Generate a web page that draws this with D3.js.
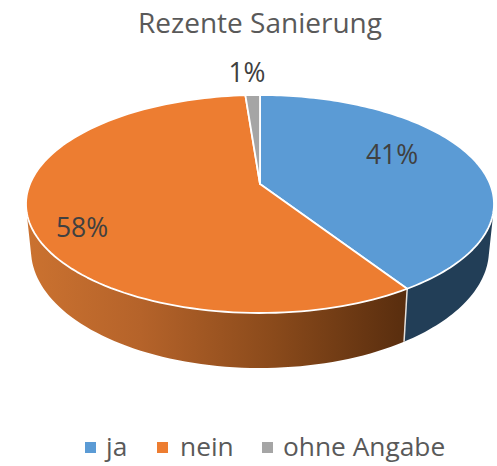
<!DOCTYPE html>
<html><head><meta charset="utf-8">
<script src="https://cdn.jsdelivr.net/npm/d3@7/dist/d3.min.js"></script>
<style>html,body{margin:0;padding:0;background:#fff}svg{display:block}text{font-family:"Open Sans",sans-serif}</style>
</head><body><svg id="c" width="497" height="466"></svg>
<script>
const title = "Rezente Sanierung";
const categories = ["ja", "nein", "ohne Angabe"];
const values = [40.9, 57.9, 1.2];
const valueLabels = ["41%", "58%", "1%"];
const topColors = ["#5B9BD5", "#ED7D31", "#A5A5A5"];

const svg = d3.select("#c");
const cx = 260, topCy = 204, topRy = 109, apexOffset = 20, topRx = 234;
const botCy = 250, botRy = 118, botRx = 229;

// perspective projection of the unit circle, so the pie's centre sits above the ellipse centre
const k = apexOffset / topRy;
function project(angle, radius, level) {
  const u = Math.sin(angle) * radius, v = -Math.cos(angle) * radius;
  const s = level === 0 ? topRy : botRy;
  const rx = level === 0 ? topRx : botRx;
  const cy = level === 0 ? topCy : botCy;
  const d = 1 - k * v;
  const off = apexOffset * s / topRy;
  return [cx + rx * Math.sqrt(1 - k * k) * u / d, cy + (s * v - off) / d];
}
const pie = d3.pie().sort(null)(values);
const line = d3.line();
const arcPts = (a0, a1, r, level) => d3.range(0, 121).map(i => project(a0 + (a1 - a0) * i / 120, r, level));

// wall = union of small quads between the top rim and the bottom rim
function wallPath(d) {
  const a = arcPts(d.startAngle, d.endAngle, 1, 0), b = arcPts(d.startAngle, d.endAngle, 1, 1);
  let p = "";
  for (let i = 0; i < a.length - 1; i++) {
    const q = [a[i], a[i + 1], b[i + 1], b[i]];
    if (d3.polygonArea(q) < 0) q.reverse();
    p += line(q) + "Z";
  }
  return p;
}

const defs = svg.append("defs");
const g1 = defs.append("linearGradient").attr("id", "wall1");
[[0, "#CB7230"], [0.3, "#B5632A"], [0.65, "#8A4A1B"], [1, "#582D0E"]].forEach(s =>
  g1.append("stop").attr("offset", s[0]).attr("stop-color", s[1]));
const wallFill = ["#223E57", "url(#wall1)", "#6E6E6E"];

// walls
svg.append("g").selectAll("path").data(pie).join("path")
  .attr("d", wallPath)
  .attr("fill", (d, i) => wallFill[i]);
// wall divider at the visible slice boundary
svg.append("g").selectAll("line").data(pie.slice(0, 1)).join("line")
  .attr("x1", d => project(d.endAngle, 1, 0)[0]).attr("y1", d => project(d.endAngle, 1, 0)[1])
  .attr("x2", d => project(d.endAngle, 1, 1)[0]).attr("y2", d => project(d.endAngle, 1, 1)[1])
  .attr("stroke", "#E4E0DC").attr("stroke-width", 1.5);
// top face
svg.append("g").selectAll("path").data(pie).join("path")
  .attr("d", d => line([project(0, 0, 0)].concat(arcPts(d.startAngle, d.endAngle, 1, 0))) + "Z")
  .attr("fill", (d, i) => topColors[i])
  .attr("stroke", "#fff").attr("stroke-width", 1.8).attr("stroke-linejoin", "round");

// title
svg.append("text").attr("x", 260).attr("y", 33).attr("text-anchor", "middle")
  .attr("font-size", 28).attr("fill", "#595959").text(title);

// value labels
const labelPos = [[392, 154], [82, 227], [247, 72]];
svg.append("g").selectAll("text").data(valueLabels).join("text")
  .attr("x", (d, i) => labelPos[i][0]).attr("y", (d, i) => labelPos[i][1])
  .attr("dy", "0.36em").attr("text-anchor", "middle")
  .attr("font-size", 26.5).attr("fill", "#404040").text(d => d);

// legend
const legX = [85, 157, 262], legTextX = [106, 180, 283];
const leg = svg.append("g");
leg.selectAll("rect").data(categories).join("rect")
  .attr("x", (d, i) => legX[i]).attr("y", 442).attr("width", 11).attr("height", 11)
  .attr("fill", (d, i) => topColors[i]);
leg.selectAll("text").data(categories).join("text")
  .attr("x", (d, i) => legTextX[i]).attr("y", 456)
  .attr("font-size", 26.3).attr("fill", "#595959").text(d => d);
</script></body></html>
